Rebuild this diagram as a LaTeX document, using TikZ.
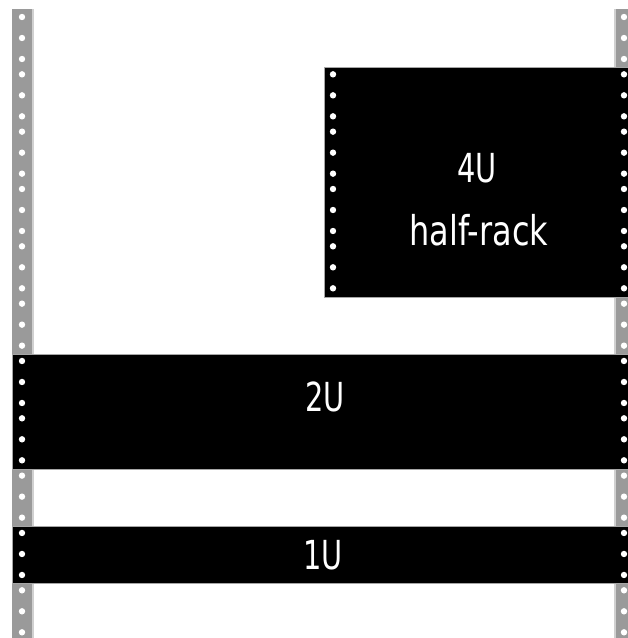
\documentclass[tikz,border=0pt]{standalone}
\usepackage{fontspec}
\newfontfamily\labelfont[FakeStretch=0.72]{DejaVu Sans}
\newfontfamily\widelabelfont[FakeStretch=0.78]{DejaVu Sans}
\definecolor{railgray}{HTML}{9A9A9A}
\definecolor{raillight}{HTML}{D0D0D0}
\begin{document}
\begin{tikzpicture}[x=1pt,y=-1pt,
  unitbox/.style={fill=black,draw=gray!70,line width=0.8pt,inner sep=0,anchor=north west},
  hole/.style={fill=white},
  lbl/.style={text=white,font=\labelfont\fontsize{40}{48}\selectfont,inner sep=0},
  widelbl/.style={text=white,font=\widelabelfont\fontsize{41}{48}\selectfont,inner sep=0}]
\useasboundingbox (0,0) rectangle (628,638);
\clip (0,0) rectangle (628,638);
% rails
\fill[railgray] (12,9) rectangle (32,640);
\fill[raillight] (32,9) rectangle (34,640);
\fill[raillight] (614,9) rectangle (616,640);
\fill[railgray] (616,9) rectangle (636,640);
\foreach \u in {0,...,10}{
  \foreach \o in {7,28,49}{
    \fill[hole] (22,{10+\u*57.33+\o}) circle (3.2);
    \fill[hole] (624,{10+\u*57.33+\o}) circle (3.2);
  }
}
% units
\node[unitbox,minimum width=320pt,minimum height=229.3pt] (u4) at (324,67.3) {};
\node[unitbox,minimum width=632pt,minimum height=114.7pt] (u2) at (12,354) {};
\node[unitbox,minimum width=632pt,minimum height=57.3pt] (u1) at (12,526) {};
% ear holes
\foreach \u in {1,...,4}{
  \foreach \o in {7,28,49}{
    \fill[hole] (333,{10+\u*57.33+\o}) circle (3.2);
    \fill[hole] (624,{10+\u*57.33+\o}) circle (3.2);
  }
}
\foreach \u in {6,7,9}{
  \foreach \o in {7,28,49}{
    \fill[hole] (22,{10+\u*57.33+\o}) circle (3.2);
    \fill[hole] (624,{10+\u*57.33+\o}) circle (3.2);
  }
}
% labels
\node[lbl] (t4) at (477,168) {4U};
\node[widelbl] (th) at (479,230) {half-rack};
\node[lbl] (t2) at (325,397) {2U};
\node[lbl] (t1) at (323,555) {1U};
\end{tikzpicture}
\end{document}
